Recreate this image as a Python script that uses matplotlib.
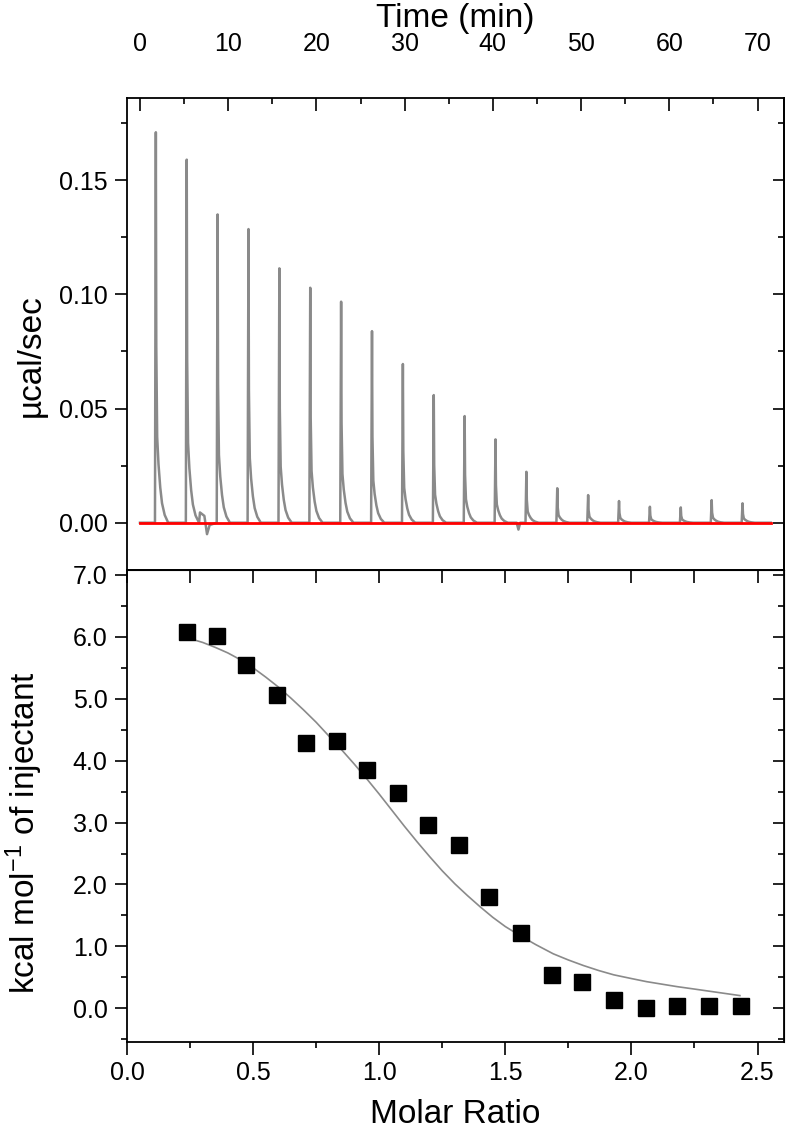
import numpy as np
import matplotlib
matplotlib.use("Agg")
import matplotlib.pyplot as plt
from matplotlib.ticker import MultipleLocator, FormatStrFormatter

plt.rcParams['font.family'] = ['Liberation Sans', 'DejaVu Sans']
plt.rcParams['mathtext.fontset'] = 'custom'
plt.rcParams['mathtext.rm'] = 'Liberation Sans'
plt.rcParams['mathtext.it'] = 'Liberation Sans:italic'
plt.rcParams['mathtext.bf'] = 'Liberation Sans:bold'

# ---------------- data ----------------
# thermogram (top panel): injection times (min) and peak heights (µcal/sec)
peak_times = [1.8, 5.3, 8.8, 12.3, 15.8, 19.3, 22.8, 26.3, 29.8, 33.3,
              36.8, 40.3, 43.8, 47.3, 50.8, 54.3, 57.8, 61.3, 64.8, 68.3]
peak_heights = [0.171, 0.159, 0.135, 0.1286, 0.1114, 0.1029, 0.0968, 0.0839,
                0.0695, 0.0559, 0.0467, 0.0365, 0.0223, 0.0151, 0.0121,
                0.0095, 0.0070, 0.0067, 0.0099, 0.0085]
# peak shape: time offset after injection (min), fraction of peak height
profile_dt = [-0.1, 0.0, 0.05, 0.15, 0.3, 0.5, 0.7, 1.0, 1.4]
profile_frac = [0.0, 1.0, 0.45, 0.22, 0.15, 0.09, 0.05, 0.02, 0.0]
# baseline excursions of the raw trace
feature_t = [0.0, 6.8, 7.3, 7.6, 7.9, 42.7, 42.9, 43.1, 71.5]
feature_y = [0.0, 0.0045, 0.003, -0.005, -0.001, 0.0, -0.003, 0.0, 0.0]
# red baseline
baseline_t = [0.0, 71.5]
baseline_y = [0.0, 0.0]

# integrated heats (bottom panel)
molar_ratio = [0.237, 0.356, 0.473, 0.594, 0.710, 0.832, 0.952, 1.075, 1.195,
               1.318, 1.437, 1.563, 1.686, 1.805, 1.930, 2.057, 2.182, 2.307, 2.433]
heat = [6.08, 6.01, 5.54, 5.06, 4.28, 4.31, 3.85, 3.47, 2.96,
        2.63, 1.80, 1.21, 0.53, 0.42, 0.13, 0.01, 0.03, 0.03, 0.03]
# fitted curve
fit_x = [0.25, 0.30, 0.35, 0.40, 0.45, 0.50, 0.55, 0.60, 0.65, 0.70, 0.75,
         0.80, 0.85, 0.90, 0.95, 1.00, 1.05, 1.10, 1.15, 1.20, 1.25, 1.30,
         1.35, 1.40, 1.45, 1.50, 1.56, 1.62, 1.69, 1.75, 1.81, 1.87, 1.93,
         2.00, 2.06, 2.12, 2.18, 2.25, 2.31, 2.37, 2.43]
fit_y = [5.97, 5.91, 5.83, 5.74, 5.63, 5.50, 5.35, 5.19, 5.01, 4.82, 4.62,
         4.40, 4.18, 3.95, 3.71, 3.46, 3.20, 2.94, 2.69, 2.45, 2.22, 2.01,
         1.82, 1.64, 1.47, 1.32, 1.17, 1.03, 0.88, 0.78, 0.69, 0.61, 0.54,
         0.48, 0.43, 0.39, 0.35, 0.31, 0.275, 0.24, 0.205]

# ---------------- build raw trace from the read values ----------------
tr_t = list(feature_t)
tr_y = list(feature_y)
for t0, h in zip(peak_times, peak_heights):
    for dt, f in zip(profile_dt, profile_frac):
        tr_t.append(t0 + dt)
        tr_y.append(h * f)
order = np.argsort(tr_t, kind="stable")
tr_t = np.array(tr_t)[order]
tr_y = np.array(tr_y)[order]

# ---------------- figure ----------------
W, H = 787, 1137
fig = plt.figure(figsize=(W / 100, H / 100), dpi=100)
left = 127 / W
width = 657 / W
ax1 = fig.add_axes([left, (H - 570) / H, width, 472 / H])
ax2 = fig.add_axes([left, (H - 1042) / H, width, 472 / H])

spine_lw = 1.3
tick_fs = 18
label_fs = 24

for ax in (ax1, ax2):
    for s in ax.spines.values():
        s.set_linewidth(spine_lw)

# top panel
ax1.plot(tr_t, tr_y, color='#8a8a8a', lw=1.8, zorder=2)
ax1.plot(baseline_t, baseline_y, color='red', lw=2.0, zorder=3)
ax1.set_xlim(-1.47, 73.0)
ax1.set_ylim(-0.0207, 0.186)
ax1.xaxis.set_major_locator(MultipleLocator(10))
ax1.xaxis.set_minor_locator(MultipleLocator(5))
ax1.yaxis.set_major_locator(MultipleLocator(0.05))
ax1.yaxis.set_minor_locator(MultipleLocator(0.025))
ax1.yaxis.set_major_formatter(FormatStrFormatter('%.2f'))
ax1.xaxis.tick_top()
ax1.xaxis.set_label_position('top')
ax1.tick_params(axis='x', which='both', direction='in', top=True, bottom=False,
                labeltop=True, labelbottom=False, pad=30, labelsize=tick_fs)
ax1.tick_params(axis='x', which='major', length=9, width=1.2)
ax1.tick_params(axis='x', which='minor', length=4.5, width=1.2)
ax1.tick_params(axis='y', which='both', direction='out', left=True, right=False,
                labelsize=tick_fs, pad=5)
ax1.tick_params(axis='y', which='major', length=9, width=1.2)
ax1.tick_params(axis='y', which='minor', length=4.5, width=1.2)
ax1r = ax1.secondary_yaxis('right')
ax1r.yaxis.set_major_locator(MultipleLocator(0.05))
ax1r.yaxis.set_minor_locator(MultipleLocator(0.025))
ax1r.tick_params(which='both', direction='in', labelright=False, width=1.2)
ax1r.tick_params(which='major', length=8)
ax1r.tick_params(which='minor', length=4.5)
ax1r.spines['right'].set_linewidth(spine_lw)
ax1.set_xlabel('Time (min)', fontsize=label_fs, labelpad=4)
ax1.set_ylabel('µcal/sec', fontsize=label_fs)
ax1.yaxis.set_label_coords(-0.122, 0.455)

# bottom panel
ax2.plot(fit_x, fit_y, color='#8a8a8a', lw=1.2, zorder=2)
ax2.plot(molar_ratio, heat, linestyle='none', marker='s', markersize=11.5,
         color='black', zorder=3)
ax2.set_xlim(0.0, 2.605)
ax2.set_ylim(-0.545, 7.08)
ax2.xaxis.set_major_locator(MultipleLocator(0.5))
ax2.xaxis.set_minor_locator(MultipleLocator(0.25))
ax2.yaxis.set_major_locator(MultipleLocator(1.0))
ax2.yaxis.set_minor_locator(MultipleLocator(0.5))
ax2.xaxis.set_major_formatter(FormatStrFormatter('%.1f'))
ax2.yaxis.set_major_formatter(FormatStrFormatter('%.1f'))
ax2.tick_params(axis='both', which='both', direction='out', labelsize=tick_fs,
                pad=5, width=1.2)
ax2.tick_params(which='major', length=9)
ax2.tick_params(which='minor', length=4.5)
ax2t = ax2.secondary_xaxis('top')
ax2t.xaxis.set_major_locator(MultipleLocator(0.5))
ax2t.xaxis.set_minor_locator(MultipleLocator(0.25))
ax2t.tick_params(which='both', direction='in', labeltop=False, width=1.2, length=9)
ax2r = ax2.secondary_yaxis('right')
ax2r.yaxis.set_major_locator(MultipleLocator(1.0))
ax2r.yaxis.set_minor_locator(MultipleLocator(0.5))
ax2r.tick_params(which='both', direction='in', labelright=False, width=1.2)
ax2r.tick_params(which='major', length=8)
ax2r.tick_params(which='minor', length=4.5)
ax2.set_xlabel('Molar Ratio', fontsize=label_fs, labelpad=10)
ax2.set_ylabel('kcal mol$^{-1}$ of injectant', fontsize=label_fs)
ax2.yaxis.set_label_coords(-0.125, 0.443)

fig.savefig('out.png', dpi=100, facecolor='white')
